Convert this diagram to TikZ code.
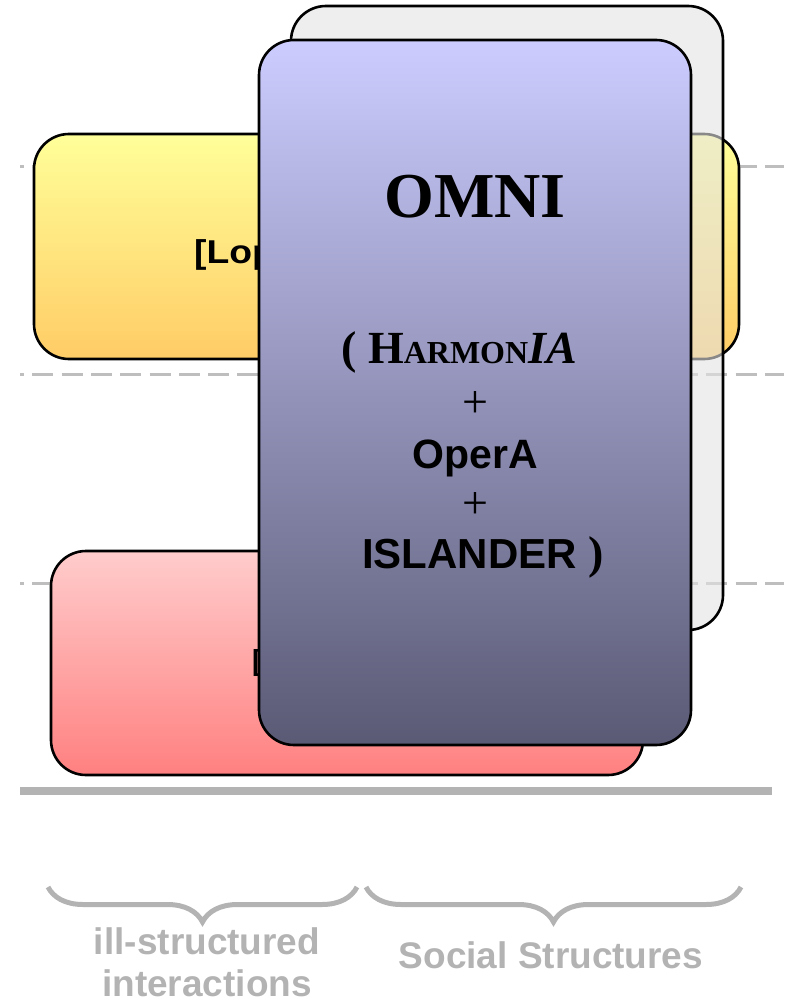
\documentclass[tikz,border=0pt]{standalone}
\usepackage{fontspec}
\setmainfont{Liberation Serif}
\newfontfamily\arialf{Liberation Sans}
\usetikzlibrary{decorations.pathreplacing}
\definecolor{ytop}{RGB}{255,255,153}
\definecolor{ybot}{RGB}{255,204,102}
\definecolor{rtop}{RGB}{255,204,204}
\definecolor{rbot}{RGB}{255,128,128}
\definecolor{ptop}{RGB}{204,204,255}
\definecolor{pbot}{RGB}{90,90,117}
\definecolor{gfill}{RGB}{227,227,227}
\definecolor{dashgray}{RGB}{190,190,190}
\definecolor{labgray}{RGB}{179,179,179}
\tikzset{
  panel/.style={draw=black, line width=2.6pt, rounded corners=35pt, inner sep=0pt},
  guide/.style={draw=dashgray, line width=3pt, dash pattern=on 21pt off 8.3pt, dash phase=17pt},
  baseline line/.style={draw=labgray, line width=8pt},
  bracket/.style={draw=labgray, line width=5pt, decorate, decoration={brace, mirror, amplitude=35pt}},
  lab/.style={text=labgray, inner sep=0pt, font=\arialf\bfseries\fontsize{37}{42}\selectfont},
  txt/.style={inner sep=0pt, text=black}
}
\begin{document}
\begin{tikzpicture}[x=1pt,y=-1pt]
\useasboundingbox (0,0) rectangle (784,1003);
% guide lines
\coordinate (g1a) at (20,166.5); \coordinate (g1b) at (784,166.5);
\coordinate (g2a) at (20,374.7); \coordinate (g2b) at (784,374.7);
\coordinate (g3a) at (20,583); \coordinate (g3b) at (784,583);
\draw[guide] (g1a) -- (g1b);
\draw[guide] (g2a) -- (g2b);
\draw[guide] (g3a) -- (g3b);
\coordinate (axa) at (20,791); \coordinate (axb) at (772,791);
\draw[baseline line] (axa) -- (axb);
% boxes
\node[panel, top color=ytop, bottom color=ybot, minimum width=705pt, minimum height=225pt] (yellow) at (386.5,246.5) {};
\node[txt, anchor=base west, font=\arialf\bfseries\fontsize{33}{38}\selectfont] (ytext) at (194,263) {\scalebox{1.13}[1]{[Lop}};
\node[panel, top color=rtop, bottom color=rbot, minimum width=592pt, minimum height=224pt] (red) at (347,663) {};
\node[txt, anchor=base west, font=\arialf\bfseries\fontsize{29}{34}\selectfont] (rtext) at (252,670) {[};
\node[panel, fill=gfill, fill opacity=0.6, draw opacity=1, minimum width=432pt, minimum height=624pt] (grey) at (507,318) {};
\node[panel, top color=ptop, bottom color=pbot, minimum width=432pt, minimum height=705pt] (purple) at (475,392.5) {};
% texts in purple
\node[txt, anchor=base, font=\bfseries\fontsize{64}{70}\selectfont] (omni) at (475,217) {OMNI};
\node[txt, anchor=base west, font=\bfseries\fontsize{46}{50}\selectfont] (harm) at (341,363) {( H{\fontsize{32}{36}\selectfont ARMON}{\itshape IA}};
\node[txt, anchor=base, font=\fontsize{46}{50}\selectfont] (plus1) at (475,417) {+};
\node[txt, anchor=base, font=\arialf\bfseries\fontsize{41}{46}\selectfont] (opera) at (475,468) {OperA};
\node[txt, anchor=base, font=\fontsize{46}{50}\selectfont] (plus2) at (475,518) {+};
\node[txt, anchor=base west] (isl) at (362,568) {{\arialf\bfseries\fontsize{42}{46}\selectfont ISLANDER}{\bfseries\fontsize{46}{50}\selectfont\ )}};
% braces
\coordinate (b1l) at (48,887); \coordinate (b1r) at (357,887);
\coordinate (b2l) at (366,887); \coordinate (b2r) at (741,887);
\draw[bracket] (b1l) -- (b1r);
\draw[bracket] (b2l) -- (b2r);
\node[lab, anchor=north, align=center] (ill) at (207,927) {ill-structured\\interactions};
\node[lab, anchor=base] (soc) at (551,968) {Social Structures};
\end{tikzpicture}
\end{document}
